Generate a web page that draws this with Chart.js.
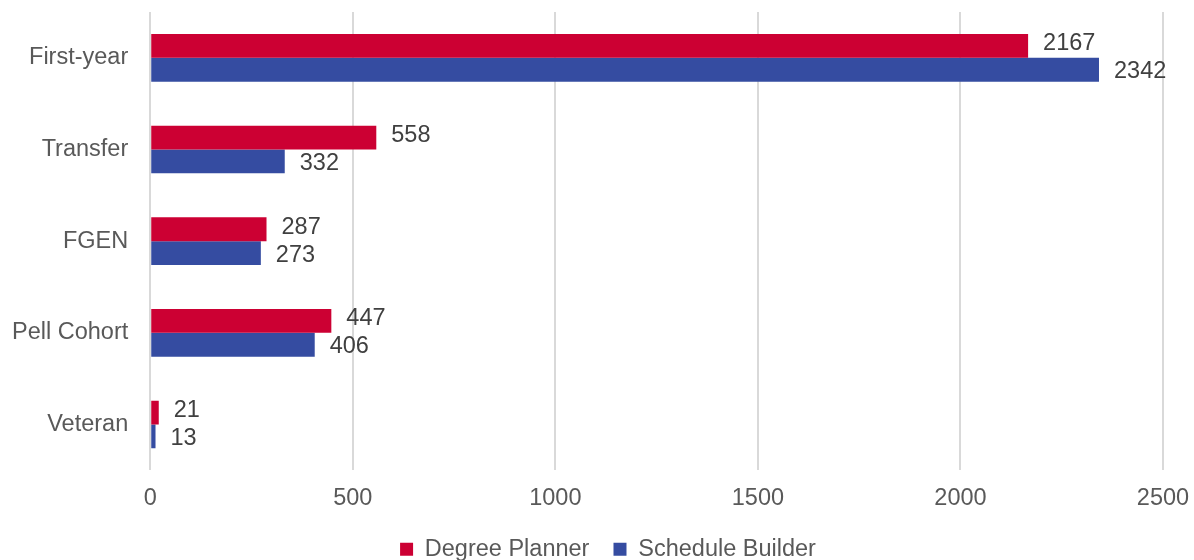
<!DOCTYPE html>
<html>
<head>
<meta charset="utf-8">
<script src="https://cdn.jsdelivr.net/npm/chart.js@4/dist/chart.umd.min.js"></script>
<style>
  html, body { margin: 0; padding: 0; background: #fff; }
  #wrap { width: 1194px; height: 560px; position: relative; }
</style>
</head>
<body>
<div id="wrap"><canvas id="chart-bar"></canvas></div>
<script>
var categories = ['First-year', 'Transfer', 'FGEN', 'Pell Cohort', 'Veteran'];
var degreePlanner = [2167, 558, 287, 447, 21];
var scheduleBuilder = [2342, 332, 273, 406, 13];
var xTicks = [0, 500, 1000, 1500, 2000, 2500];

// draws the value next to the end of each bar
var barLabels = {
  id: 'barLabels',
  afterDatasetsDraw: function(chart) {
    let ctx = chart.ctx;
    ctx.save();
    ctx.font = '23.5px "Liberation Sans", Arial, sans-serif';
    ctx.fillStyle = '#404040';
    ctx.textAlign = 'left';
    ctx.textBaseline = 'middle';
    chart.data.datasets.forEach(function(ds, i) {
      let meta = chart.getDatasetMeta(i);
      let dy = i === 0 ? -2 : 2;
      meta.data.forEach(function(bar, j) {
        ctx.fillText(String(ds.data[j]), bar.x + 15, bar.y + dy);
      });
    });
    ctx.restore();
  }
};

// legend sits a little right of centre in the original
var legendShift = {
  id: 'legendShift',
  afterLayout: function(chart) {
    if (chart.legend) {
      chart.legend.left += 16;
      chart.legend.right += 16;
    }
  }
};

Chart.defaults.font.family = '"Liberation Sans", Arial, sans-serif';
Chart.defaults.font.size = 23.5;
Chart.defaults.color = '#595959';

new Chart(document.getElementById('chart-bar'), {
  type: 'bar',
  data: {
    labels: categories,
    datasets: [{
      label: 'Degree Planner',
      data: degreePlanner,
      backgroundColor: '#CC0033',
      borderWidth: 0,
      barPercentage: 1,
      categoryPercentage: 0.52
    }, {
      label: 'Schedule Builder',
      data: scheduleBuilder,
      backgroundColor: '#354CA1',
      borderWidth: 0,
      barPercentage: 1,
      categoryPercentage: 0.52
    }]
  },
  options: {
    indexAxis: 'y',
    responsive: true,
    maintainAspectRatio: false,
    animation: false,
    layout: { padding: { left: -10, right: 0, top: 0, bottom: -11 } },
    scales: {
      x: {
        min: 0,
        max: 2500,
        afterBuildTicks: function(axis) {
          axis.ticks = xTicks.map(function(v) { return { value: v }; });
        },
        afterFit: function(axis) {
          axis.paddingRight = 31;
        },
        grid: { color: '#d9d9d9', lineWidth: 2, drawTicks: false },
        border: { display: false },
        ticks: {
          padding: 14,
          color: '#595959',
          callback: function(v) { return String(v); }
        }
      },
      y: {
        grid: { display: false, drawTicks: false },
        border: { display: false },
        ticks: { padding: 22, color: '#595959' },
        afterFit: function(axis) {
          axis.paddingTop = 12;
          axis.paddingBottom = 0;
        }
      }
    },
    plugins: {
      legend: {
        position: 'bottom',
        labels: {
          boxWidth: 13,
          boxHeight: 13,
          padding: 11,
          color: '#595959',
          generateLabels: function(chart) {
            let items = Chart.defaults.plugins.legend.labels.generateLabels(chart);
            items[0].text = items[0].text + '\u00a0\u00a0';
            return items;
          }
        }
      },
      tooltip: { enabled: false }
    }
  },
  plugins: [barLabels, legendShift]
});
</script>
</body>
</html>
